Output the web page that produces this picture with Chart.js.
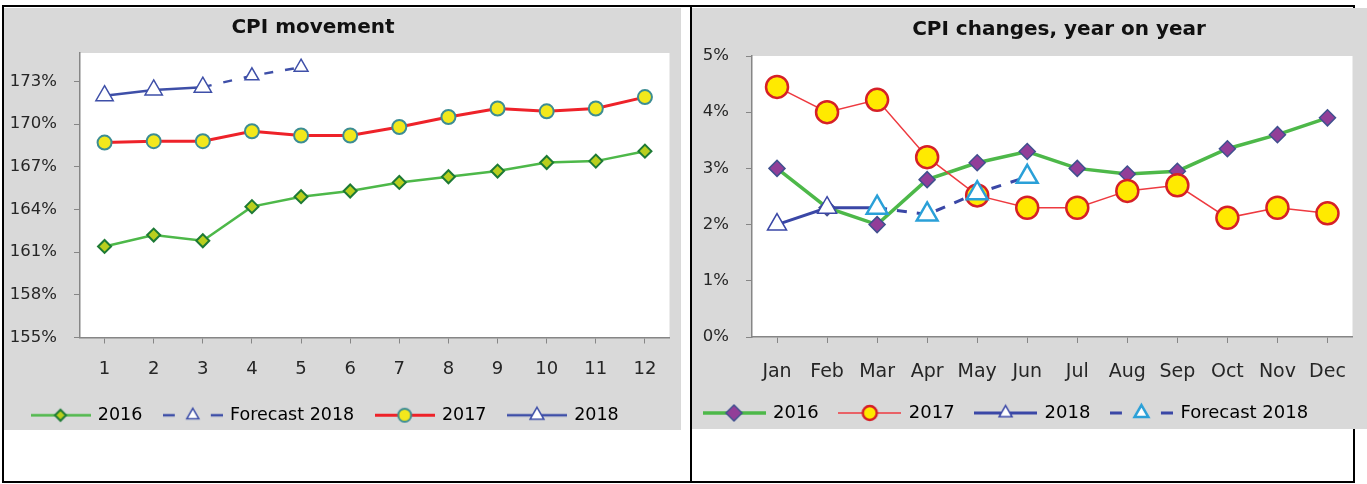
<!DOCTYPE html>
<html>
<head>
<meta charset="utf-8">
<title>CPI</title>
<script src="https://cdn.jsdelivr.net/npm/chart.js@4.4.1/dist/chart.umd.min.js"></script>
<style>
html, body { margin: 0; padding: 0; background: #fff; width: 1367px; height: 484px; overflow: hidden; position: relative; font-family: "DejaVu Sans", sans-serif; }
.rule { position: absolute; background: #000; }
.panel { position: absolute; background: #d9d9d9; }
.panel canvas { position: absolute; left: 0; top: 0; }
.title { position: absolute; font-weight: bold; font-size: 20px; color: #111; white-space: nowrap; transform: translateX(-50%); }
</style>
</head>
<body>
<!-- table frame behind the two chart pictures -->
<div class="rule" style="left:2px;top:5px;width:1353px;height:2px"></div>
<div class="rule" style="left:2px;top:481px;width:1353px;height:2px"></div>
<div class="rule" style="left:2px;top:5px;width:2px;height:478px"></div>
<div class="rule" style="left:690px;top:5px;width:2px;height:478px"></div>
<div class="rule" style="left:1353px;top:5px;width:2px;height:478px"></div>

<div class="panel" style="left:4px;top:8px;width:677px;height:422px">
  <canvas id="cpiMovement" width="677" height="422"></canvas>
  <div class="title" style="left:309px;top:6px">CPI movement</div>
</div>
<div class="panel" style="left:692px;top:8px;width:675px;height:421px">
  <canvas id="cpiYoy" width="675" height="421"></canvas>
  <div class="title" style="left:367px;top:8px">CPI changes, year on year</div>
</div>

<script>
// datos
const monthNumbers = ['1', '2', '3', '4', '5', '6', '7', '8', '9', '10', '11', '12'];
const monthNames = ['Jan', 'Feb', 'Mar', 'Apr', 'May', 'Jun', 'Jul', 'Aug', 'Sep', 'Oct', 'Nov', 'Dec'];

// indice CPI (%)
const cpiTicks = [155, 158, 161, 164, 167, 170, 173];
const cpi2016 = [161.4, 162.2, 161.8, 164.2, 164.9, 165.3, 165.9, 166.3, 166.7, 167.3, 167.4, 168.1];
const cpi2017 = [168.7, 168.8, 168.8, 169.5, 169.2, 169.2, 169.8, 170.5, 171.1, 170.9, 171.1, 171.9];
const cpi2018 = [172.0, 172.4, 172.6];
const cpiForecast2018 = [null, null, 172.6, 173.4, 174.0];

// variacion interanual (%)
const yoyTicks = [0, 1, 2, 3, 4, 5];
const yoy2016 = [3.0, 2.3, 2.0, 2.8, 3.1, 3.3, 3.0, 2.9, 2.95, 3.35, 3.6, 3.9];
const yoy2017 = [4.45, 4.0, 4.22, 3.2, 2.52, 2.3, 2.3, 2.6, 2.7, 2.12, 2.3, 2.2];
const yoy2018 = [2.0, 2.3, 2.3];
const yoyForecast2018 = [null, null, 2.3, 2.18, 2.56, 2.85];

const FONT = "'DejaVu Sans', sans-serif";
const AXIS_GRAY = '#868686';
const TEXT = '#262626';

Chart.defaults.font.family = FONT;
Chart.defaults.animation = false;

// fondo blanco del area de trazado
const plotBg = {
    id: 'plotBg',
    beforeDraw(chart) {
        const { ctx, chartArea: a } = chart;
        ctx.save();
        ctx.fillStyle = '#fff';
        ctx.fillRect(a.left, a.top, a.right - a.left, a.bottom - a.top);
        ctx.restore();
    }
};

// marcador para los iconos de la leyenda
function drawMark(g, x, y, m) {
    g.beginPath();
    if (m.style === 'circle') {
        g.arc(x, y, m.r, 0, Math.PI * 2);
    } else if (m.style === 'rectRot') {
        g.moveTo(x, y - m.r); g.lineTo(x + m.r, y); g.lineTo(x, y + m.r); g.lineTo(x - m.r, y);
    } else {
        const s = m.r * Math.sin(Math.PI / 3);
        g.moveTo(x, y - m.r); g.lineTo(x + s, y + m.r / 2); g.lineTo(x - s, y + m.r / 2);
    }
    g.closePath();
    g.fillStyle = m.fill; g.fill();
    g.lineWidth = m.bw; g.strokeStyle = m.stroke; g.stroke();
}

// icono de leyenda: linea + marcador, estilo Excel
function legendIcon(w, line, m) {
    const h = Math.ceil(m.r * 2 + 6);
    const c = document.createElement('canvas');
    c.width = w; c.height = h;
    const g = c.getContext('2d');
    g.strokeStyle = line.color;
    g.lineWidth = line.width;
    g.setLineDash(line.dashed ? [12, w - 24] : []);
    g.beginPath(); g.moveTo(0, h / 2); g.lineTo(w, h / 2); g.stroke();
    g.setLineDash([]);
    drawMark(g, w / 2, h / 2, m);
    return c;
}

function axisX(labels, tickPad, size, height) {
    return {
        type: 'category',
        labels: labels,
        offset: true,
        grid: { offset: false, drawOnChartArea: false, drawTicks: true, tickLength: 6, color: AXIS_GRAY },
        border: { color: AXIS_GRAY, width: 1.5 },
        ticks: { padding: tickPad, color: TEXT, font: { size: size }, maxRotation: 0, autoSkip: false },
        afterFit(s) { s.height = height; }
    };
}

function axisY(min, max, tickValues, width) {
    return {
        min: min, max: max,
        grid: { drawOnChartArea: false, drawTicks: true, tickLength: 6, color: AXIS_GRAY },
        border: { color: AXIS_GRAY, width: 1.5 },
        ticks: { padding: 17, color: TEXT, font: { size: 16.5 }, callback: v => v + '%' },
        afterBuildTicks(s) { s.ticks = tickValues.map(v => ({ value: v })); },
        afterFit(s) { s.width = width; }
    };
}

function legendOpts(icons, boxW, size, pad) {
    return {
        position: 'bottom',
        align: 'start',
        labels: {
            usePointStyle: true,
            pointStyleWidth: boxW,
            padding: pad,
            color: '#1a1a1a',
            font: { size: size },
            generateLabels: chart => chart.data.datasets.map((ds, i) => ({
                text: ds.label, pointStyle: icons[i], datasetIndex: i, hidden: false,
                fillStyle: 'transparent', strokeStyle: 'transparent', lineWidth: 0
            }))
        }
    };
}

function ds(label, data, s, order) {
    return {
        label: label, data: data, order: order,
        borderColor: s.line.color, borderWidth: s.line.width,
        borderDash: s.line.dashed ? s.dash : [],
        pointStyle: s.mark.style, pointRadius: s.mark.r,
        pointBackgroundColor: s.mark.fill, pointBorderColor: s.mark.stroke, pointBorderWidth: s.mark.bw,
        tension: 0, spanGaps: false, clip: false
    };
}

// ---- CPI movement ----
const leftStyles = [
    { line: { color: '#4DB849', width: 2.5 }, mark: { style: 'rectRot', r: 6.5, fill: '#B9CF1E', stroke: '#1D7A35', bw: 2 }, legendR: 5.5 },
    { line: { color: '#3E4FA8', width: 2.5, dashed: true }, dash: [9, 12], mark: { style: 'triangle', r: 8, fill: '#fff', stroke: '#3E4FA8', bw: 1.5 }, legendR: 7 },
    { line: { color: '#EE2229', width: 3 }, mark: { style: 'circle', r: 7, fill: '#F2E81C', stroke: '#3C8D93', bw: 2 }, legendR: 6.5 },
    { line: { color: '#3E4FA8', width: 2.5 }, mark: { style: 'triangle', r: 10, fill: '#fff', stroke: '#3E4FA8', bw: 1.5 }, legendR: 8 }
];
const leftIcons = leftStyles.map(s => legendIcon(60, s.line, Object.assign({}, s.mark, { r: s.legendR })));

new Chart(document.getElementById('cpiMovement'), {
    type: 'line',
    data: {
        labels: monthNumbers,
        datasets: [
            ds('2016', cpi2016, leftStyles[0], 3),
            ds('Forecast 2018', cpiForecast2018, leftStyles[1], 1),
            ds('2017', cpi2017, leftStyles[2], 2),
            ds('2018', cpi2018, leftStyles[3], 0)
        ]
    },
    options: {
        responsive: false,
        devicePixelRatio: 1,
        layout: { padding: { top: 45, left: 6, right: 8, bottom: -4 } },
        scales: { x: axisX(monthNumbers, 15, 18, 47), y: axisY(155, 175, cpiTicks, 70) },
        plugins: { legend: legendOpts(leftIcons, 57, 17.5, 22), tooltip: { enabled: false } }
    },
    plugins: [plotBg]
});

// ---- CPI changes, year on year ----
const rightStyles = [
    { line: { color: '#4DB849', width: 3.5 }, mark: { style: 'rectRot', r: 8, fill: '#923E98', stroke: '#40508F', bw: 1.5 }, legendR: 8 },
    { line: { color: '#EE3A40', width: 1.5 }, mark: { style: 'circle', r: 11, fill: '#FFEA00', stroke: '#D62027', bw: 2.5 }, legendR: 7 },
    { line: { color: '#3A47A6', width: 3 }, mark: { style: 'triangle', r: 11, fill: '#fff', stroke: '#3A47A6', bw: 1.5 }, legendR: 7.5 },
    { line: { color: '#3A47A6', width: 3, dashed: true }, dash: [10, 10], mark: { style: 'triangle', r: 12, fill: '#fff', stroke: '#2AA0D8', bw: 2.5 }, legendR: 8 }
];
const rightIcons = rightStyles.map(s => legendIcon(63, s.line, Object.assign({}, s.mark, { r: s.legendR })));

new Chart(document.getElementById('cpiYoy'), {
    type: 'line',
    data: {
        labels: monthNames,
        datasets: [
            ds('2016', yoy2016, rightStyles[0], 3),
            ds('2017', yoy2017, rightStyles[1], 2),
            ds('2018', yoy2018, rightStyles[2], 1),
            ds('Forecast 2018', yoyForecast2018, rightStyles[3], 0)
        ]
    },
    options: {
        responsive: false,
        devicePixelRatio: 1,
        layout: { padding: { top: 48, left: -9, right: 9, bottom: -3 } },
        scales: { x: axisX(monthNames, 18, 19, 46), y: axisY(0, 5, yoyTicks, 69) },
        plugins: { legend: legendOpts(rightIcons, 60, 18, 21), tooltip: { enabled: false } }
    },
    plugins: [plotBg]
});
</script>
</body>
</html>
